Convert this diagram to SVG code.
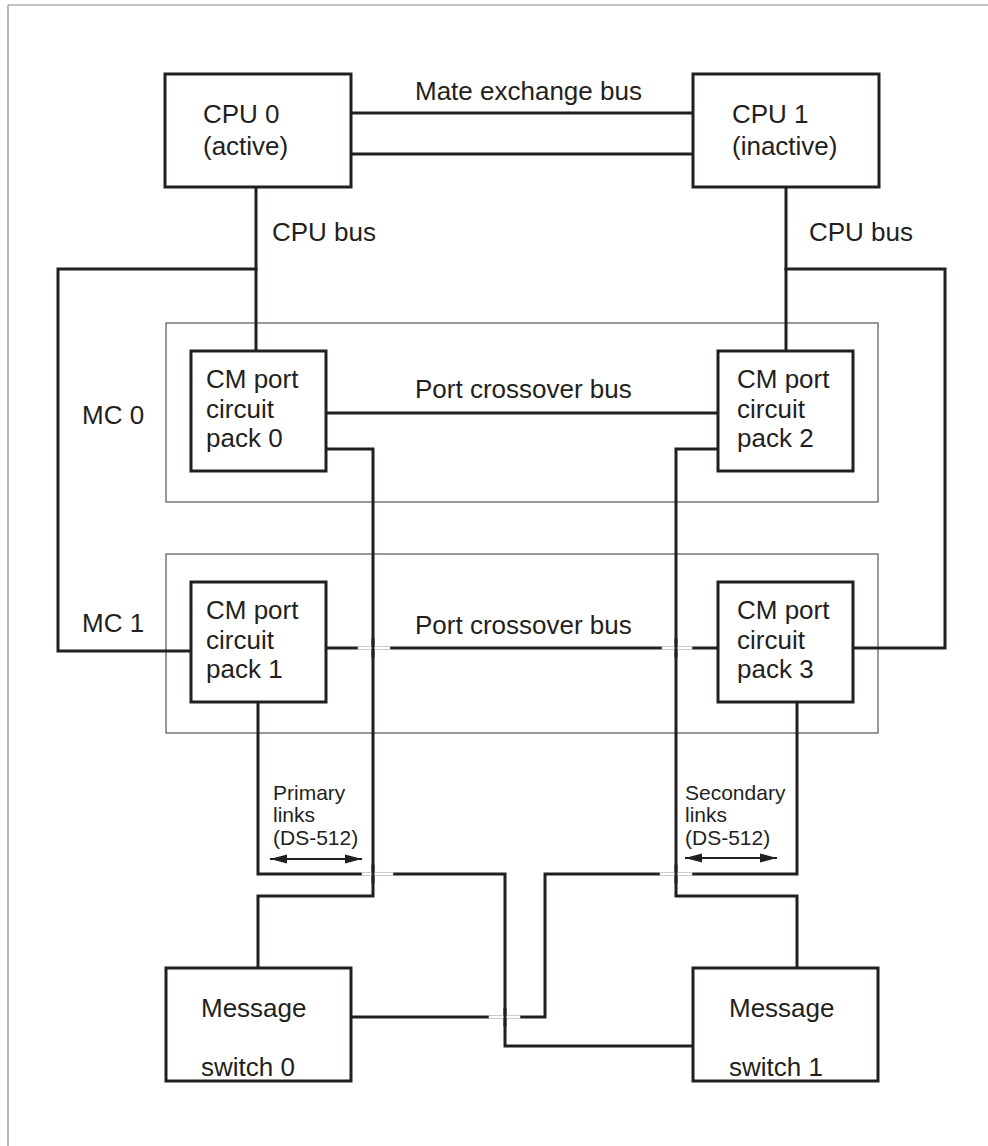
<svg xmlns="http://www.w3.org/2000/svg" width="988" height="1146" viewBox="0 0 988 1146">
<defs>
<style>
.box{fill:#fff;stroke:#231f20;stroke-width:3}
.mc{fill:none;stroke:#555;stroke-width:1.2}
.w{fill:none;stroke:#231f20;stroke-width:3;stroke-linejoin:miter;stroke-linecap:square}
.gap{fill:#fff;stroke:#cfcfcf;stroke-width:0.6}
.t{font-family:"Liberation Sans",Arial,sans-serif;font-size:26px;fill:#231f20}
.s{font-family:"Liberation Sans",Arial,sans-serif;font-size:21px;fill:#231f20}
.arr{stroke:#231f20;stroke-width:2;fill:none}
</style>
<marker id="ah" viewBox="0 0 17 10" refX="17" refY="5" markerWidth="17" markerHeight="10" markerUnits="userSpaceOnUse" orient="auto-start-reverse">
<path d="M0,0.5 L17,5 L0,9.5 Z" fill="#231f20"/>
</marker>
</defs>
<rect width="988" height="1146" fill="#fff"/>
<g id="frame">
<line x1="8" y1="5" x2="988" y2="5" stroke="#888" stroke-width="1.2"/>
<line x1="8" y1="5" x2="8" y2="1146" stroke="#888" stroke-width="1.2"/>
</g>
<g id="mc0">
<rect class="mc" x="166" y="323" width="712" height="179"/>
<text class="t" x="82" y="424">MC 0</text>
</g>
<g id="mc1">
<rect class="mc" x="166" y="554" width="712" height="179"/>
<text class="t" x="82" y="632">MC 1</text>
</g>
<g id="connectors">
<line class="w" x1="351" y1="113" x2="693" y2="113"/>
<line class="w" x1="351" y1="154" x2="693" y2="154"/>
<polyline class="w" points="256,187 256,351"/>
<polyline class="w" points="256,269 58,269 58,651 191,651"/>
<polyline class="w" points="786,187 786,351"/>
<polyline class="w" points="786,269 945,269 945,648 853,648"/>
<line class="w" x1="326" y1="413" x2="718" y2="413"/>
<line class="w" x1="326" y1="648" x2="718" y2="648"/>
<polyline class="w" points="258,702 258,874 505,874 505,1046 693,1046"/>
<polyline class="w" points="797,702 797,874 545,874 545,1017 351,1017"/>
<polyline class="w" points="326,449 373,449 373,896 258,896 258,968"/>
<polyline class="w" points="718,449 676,449 676,896 797,896 797,968"/>
<rect class="gap" x="358" y="646.5" width="32" height="3"/>
<rect class="gap" x="662" y="646.5" width="30" height="3"/>
<rect class="gap" x="362" y="872.5" width="31" height="3"/>
<rect class="gap" x="660" y="872.5" width="32" height="3"/>
<rect class="gap" x="489" y="1015.5" width="31" height="3"/>
<line class="w" x1="373" y1="640" x2="373" y2="656"/>
<line class="w" x1="676" y1="640" x2="676" y2="656"/>
<line class="w" x1="373" y1="866" x2="373" y2="882"/>
<line class="w" x1="676" y1="866" x2="676" y2="882"/>
<line class="w" x1="505" y1="1009" x2="505" y2="1025"/>
<line class="arr" x1="270" y1="859" x2="362" y2="859" marker-start="url(#ah)" marker-end="url(#ah)"/>
<line class="arr" x1="685" y1="858" x2="777" y2="858" marker-start="url(#ah)" marker-end="url(#ah)"/>
</g>
<g id="labels">
<text class="t" x="415" y="100">Mate exchange bus</text>
<text class="t" x="272" y="241">CPU bus</text>
<text class="t" x="809" y="241">CPU bus</text>
<text class="t" x="415" y="398">Port crossover bus</text>
<text class="t" x="415" y="634">Port crossover bus</text>
<text class="s"><tspan x="273" y="800">Primary</tspan><tspan x="273" y="822">links</tspan><tspan x="273" y="845">(DS-512)</tspan></text>
<text class="s"><tspan x="685" y="800">Secondary</tspan><tspan x="685" y="822">links</tspan><tspan x="685" y="845">(DS-512)</tspan></text>
</g>
<g id="cpu0">
<rect class="box" x="165" y="74" width="186" height="113"/>
<text class="t"><tspan x="203" y="123">CPU 0</tspan><tspan x="203" y="155">(active)</tspan></text>
</g>
<g id="cpu1">
<rect class="box" x="693" y="74" width="186" height="113"/>
<text class="t"><tspan x="732" y="123">CPU 1</tspan><tspan x="732" y="155">(inactive)</tspan></text>
</g>
<g id="cm0">
<rect class="box" x="191" y="351" width="135" height="120"/>
<text class="t"><tspan x="206" y="388">CM port</tspan><tspan x="206" y="418">circuit</tspan><tspan x="206" y="447">pack 0</tspan></text>
</g>
<g id="cm2">
<rect class="box" x="718" y="351" width="135" height="120"/>
<text class="t"><tspan x="737" y="388">CM port</tspan><tspan x="737" y="418">circuit</tspan><tspan x="737" y="447">pack 2</tspan></text>
</g>
<g id="cm1">
<rect class="box" x="191" y="582" width="135" height="120"/>
<text class="t"><tspan x="206" y="619">CM port</tspan><tspan x="206" y="649">circuit</tspan><tspan x="206" y="678">pack 1</tspan></text>
</g>
<g id="cm3">
<rect class="box" x="718" y="582" width="135" height="120"/>
<text class="t"><tspan x="737" y="619">CM port</tspan><tspan x="737" y="649">circuit</tspan><tspan x="737" y="678">pack 3</tspan></text>
</g>
<g id="ms0">
<rect class="box" x="166" y="968" width="185" height="113"/>
<text class="t"><tspan x="201" y="1017">Message</tspan><tspan x="201" y="1076">switch 0</tspan></text>
</g>
<g id="ms1">
<rect class="box" x="693" y="968" width="185" height="113"/>
<text class="t"><tspan x="729" y="1017">Message</tspan><tspan x="729" y="1076">switch 1</tspan></text>
</g>
</svg>
